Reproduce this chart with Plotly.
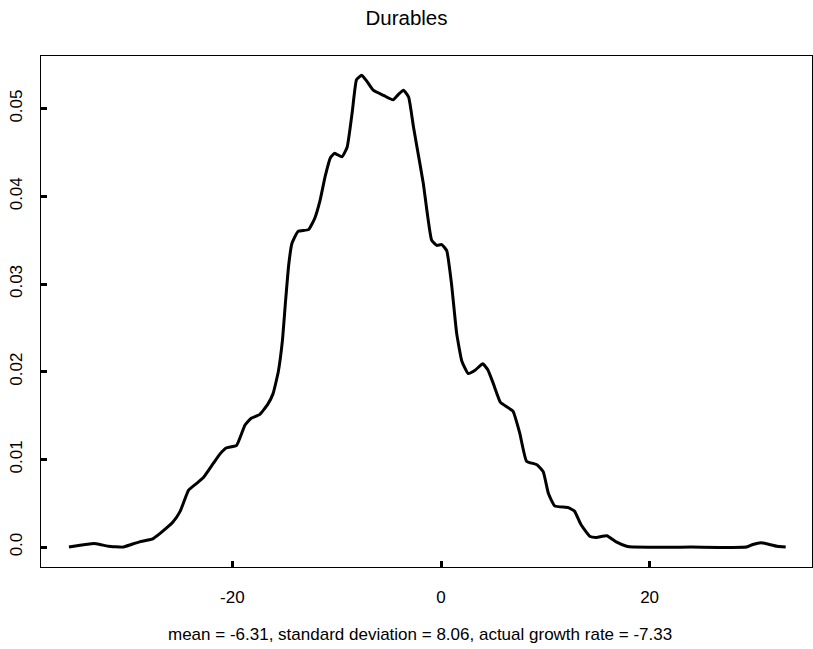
import plotly.graph_objects as go

# Kernel density estimate of "Durables" growth-rate forecasts
x_vals = [-35.67, -34.6, -33.3, -32.7, -31.9, -30.5, -29.7, -28.9, -27.7, -26.9,
          -25.7, -25.0, -24.2, -23.4, -22.8, -21.8, -21.2, -20.6, -19.6, -18.8,
          -18.2, -17.4, -16.6, -16.1, -15.6, -15.2, -14.9, -14.6, -14.3, -13.7,
          -12.7, -12.1, -11.6, -11.1, -10.6, -10.2, -9.5, -9.0, -8.5, -8.1,
          -7.6, -7.1, -6.5, -5.5, -4.6, -4.1, -3.6, -3.1, -2.65, -2.3,
          -1.7, -0.9, -0.4, 0.07, 0.55, 1.0, 1.5, 2.0, 2.6, 3.3,
          4.0, 4.5, 5.0, 5.7, 6.3, 6.9, 7.55, 8.2, 9.2, 9.8,
          10.3, 10.9, 12.2, 12.8, 13.4, 14.3, 14.9, 15.9, 16.8, 17.8,
          18.4, 24.0, 29.3, 29.9, 30.7, 31.5, 32.2, 33.05]
density = [0.0, 0.0002, 0.0004, 0.0003, 0.0001, 0.0, 0.0003, 0.0006, 0.0009, 0.0016,
           0.00285, 0.0041, 0.0065, 0.0073, 0.0079, 0.0096, 0.0106, 0.0113, 0.0116, 0.0139,
           0.0147, 0.0151, 0.0163, 0.0175, 0.0200, 0.0236, 0.0281, 0.0322, 0.0346, 0.0360,
           0.0362, 0.0375, 0.0395, 0.0423, 0.0444, 0.0449, 0.0445, 0.0456, 0.0497, 0.0533,
           0.0538, 0.0531, 0.0521, 0.0515, 0.0510, 0.0516, 0.0521, 0.0513, 0.0480, 0.0456,
           0.0415, 0.0350, 0.0344, 0.0345, 0.0338, 0.0301, 0.0244, 0.0212, 0.0198, 0.0202,
           0.0209, 0.0202, 0.0187, 0.0165, 0.0160, 0.0155, 0.0130, 0.0098, 0.0094, 0.0086,
           0.0061, 0.0047, 0.0045, 0.0041, 0.0026, 0.0012, 0.0011, 0.0013, 0.0006, 0.0001,
           0.0, 0.0, 0.0, 0.0003, 0.0005, 0.0003, 0.0001, 0.0]

x_ticks = [-20, 0, 20]
x_tick_labels = ["-20", "0", "20"]
y_ticks = [0.0, 0.01, 0.02, 0.03, 0.04, 0.05]
y_tick_labels = ["0.0", "0.01", "0.02", "0.03", "0.04", "0.05"]

title_text = "Durables"
xlab_text = "mean = -6.31, standard deviation = 8.06, actual growth rate = -7.33"

FONT = "Liberation Sans, Arial, Helvetica, sans-serif"

fig = go.Figure()
fig.add_trace(go.Scatter(
    x=x_vals, y=density, mode="lines",
    line=dict(color="black", width=3, shape="spline", smoothing=0.4),
    showlegend=False, hoverinfo="x+y",
))

fig.update_layout(
    width=813, height=649,
    margin=dict(l=41, r=1, t=56, b=82),
    paper_bgcolor="white", plot_bgcolor="white",
    font=dict(family=FONT, size=17, color="black"),
    title=dict(text=title_text, x=0.5, xanchor="center", y=1 - 18 / 649, yanchor="middle",
               font=dict(family=FONT, size=20.5, color="black")),
    xaxis=dict(
        range=[-38.35, 35.57], tickvals=x_ticks, ticktext=x_tick_labels,
        ticks="inside", ticklen=6, tickwidth=3, tickcolor="black",
        showline=True, mirror=True, linecolor="black", linewidth=1.2,
        showgrid=False, zeroline=False, ticklabelstandoff=14,
        tickfont=dict(family=FONT, size=17, color="black"),
    ),
    yaxis=dict(
        range=[-0.00227, 0.0560], tickvals=y_ticks, ticktext=y_tick_labels,
        ticks="inside", ticklen=6, tickwidth=3, tickcolor="black",
        showline=True, mirror=True, linecolor="black", linewidth=1.2,
        showgrid=False, zeroline=False, tickangle=-90, ticklabelstandoff=11,
        tickfont=dict(family=FONT, size=17, color="black"),
    ),
    annotations=[dict(
        text=xlab_text, xref="paper", yref="paper",
        x=(419.5 - 41) / 771, y=0, xanchor="center", yanchor="middle",
        yshift=-(634 - 567), showarrow=False,
        font=dict(family=FONT, size=17, color="black"),
    )],
)

fig.write_html("out.html")
